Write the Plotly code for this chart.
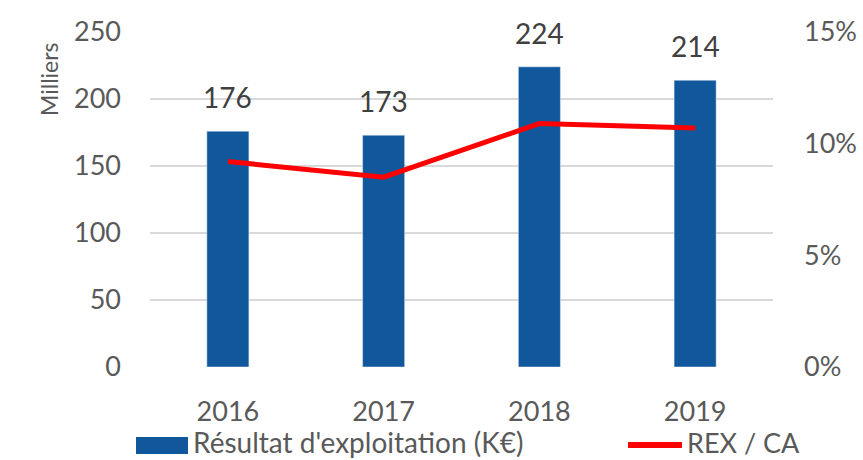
import plotly.graph_objects as go

years = ["2016", "2017", "2018", "2019"]
rex_keur = [176, 173, 224, 214]          # Résultat d'exploitation (milliers)
rex_ca_pct = [9.2, 8.5, 10.9, 10.7]      # REX / CA (%)
left_ticks = [0, 50, 100, 150, 200, 250]
right_ticks = [0, 5, 10, 15]

BLUE = "#11579B"
RED = "#FF0000"
GRAY = "#595959"
FONT = "Lato"

fig = go.Figure()
fig.add_trace(go.Bar(x=years, y=rex_keur, marker_color=BLUE,
                     name="Résultat d'exploitation (K€)", showlegend=False))
fig.add_trace(go.Scatter(x=years, y=rex_ca_pct, yaxis="y2", mode="lines",
                         line=dict(color=RED, width=5), name="REX / CA",
                         showlegend=False))

for i, v in enumerate(rex_keur):
    fig.add_annotation(x=i, y=v, text=str(v), showarrow=False, yshift=34,
                       font=dict(family=FONT, size=28, color="#404040"))

fig.add_annotation(xref="paper", yref="paper", x=(49-150)/623, y=(367-79)/335,
                   xanchor="center", yanchor="middle",
                   text="Milliers", textangle=-90, showarrow=False,
                   font=dict(family=FONT, size=23, color=GRAY))

# legend drawn manually
LY = (367 - 445) / 335
TY = (367 - 442) / 335
fig.add_shape(type="rect", xref="paper", yref="paper",
              x0=(136-150)/623, x1=(188-150)/623, y0=(367-454)/335, y1=(367-437)/335,
              fillcolor=BLUE, line_width=0)
fig.add_annotation(xref="paper", yref="paper", x=(191-150)/623, y=TY,
                   xanchor="left", yanchor="middle", showarrow=False,
                   text="Résultat d'exploitation (K€)",
                   font=dict(family=FONT, size=28, color=GRAY))
fig.add_shape(type="line", xref="paper", yref="paper",
              x0=(628-150)/623, x1=(682-150)/623, y0=LY, y1=LY,
              line=dict(color=RED, width=6))
fig.add_annotation(xref="paper", yref="paper", x=(685-150)/623, y=TY,
                   xanchor="left", yanchor="middle", showarrow=False,
                   text="REX / CA",
                   font=dict(family=FONT, size=27, color=GRAY))

fig.update_layout(
    width=863, height=460,
    margin=dict(l=150, r=90, t=32, b=93),
    paper_bgcolor="white", plot_bgcolor="white",
    bargap=0.73,
    font=dict(family=FONT, size=27, color=GRAY),
    xaxis=dict(type="category", range=[-0.5, 3.5], showgrid=False,
               showline=False, ticks="", ticklabelstandoff=26,
               tickfont=dict(family=FONT, size=27, color=GRAY)),
    yaxis=dict(range=[0, 250], tickvals=left_ticks, showgrid=True,
               gridcolor="#D9D9D9", gridwidth=1.5, zeroline=False,
               ticklabelstandoff=28, showline=False, automargin=False,
               tickfont=dict(family=FONT, size=27, color=GRAY)),
    yaxis2=dict(range=[0, 15], tickvals=right_ticks,
                ticktext=[f"{t}%" for t in right_ticks], overlaying="y",
                side="right", showgrid=False, zeroline=False, showline=False,
                ticklabelstandoff=30, automargin=False,
                tickfont=dict(family=FONT, size=27, color=GRAY)),
)

fig.write_html("out.html", config={"displayModeBar": False},
               post_script="document.body.style.margin='0';")
